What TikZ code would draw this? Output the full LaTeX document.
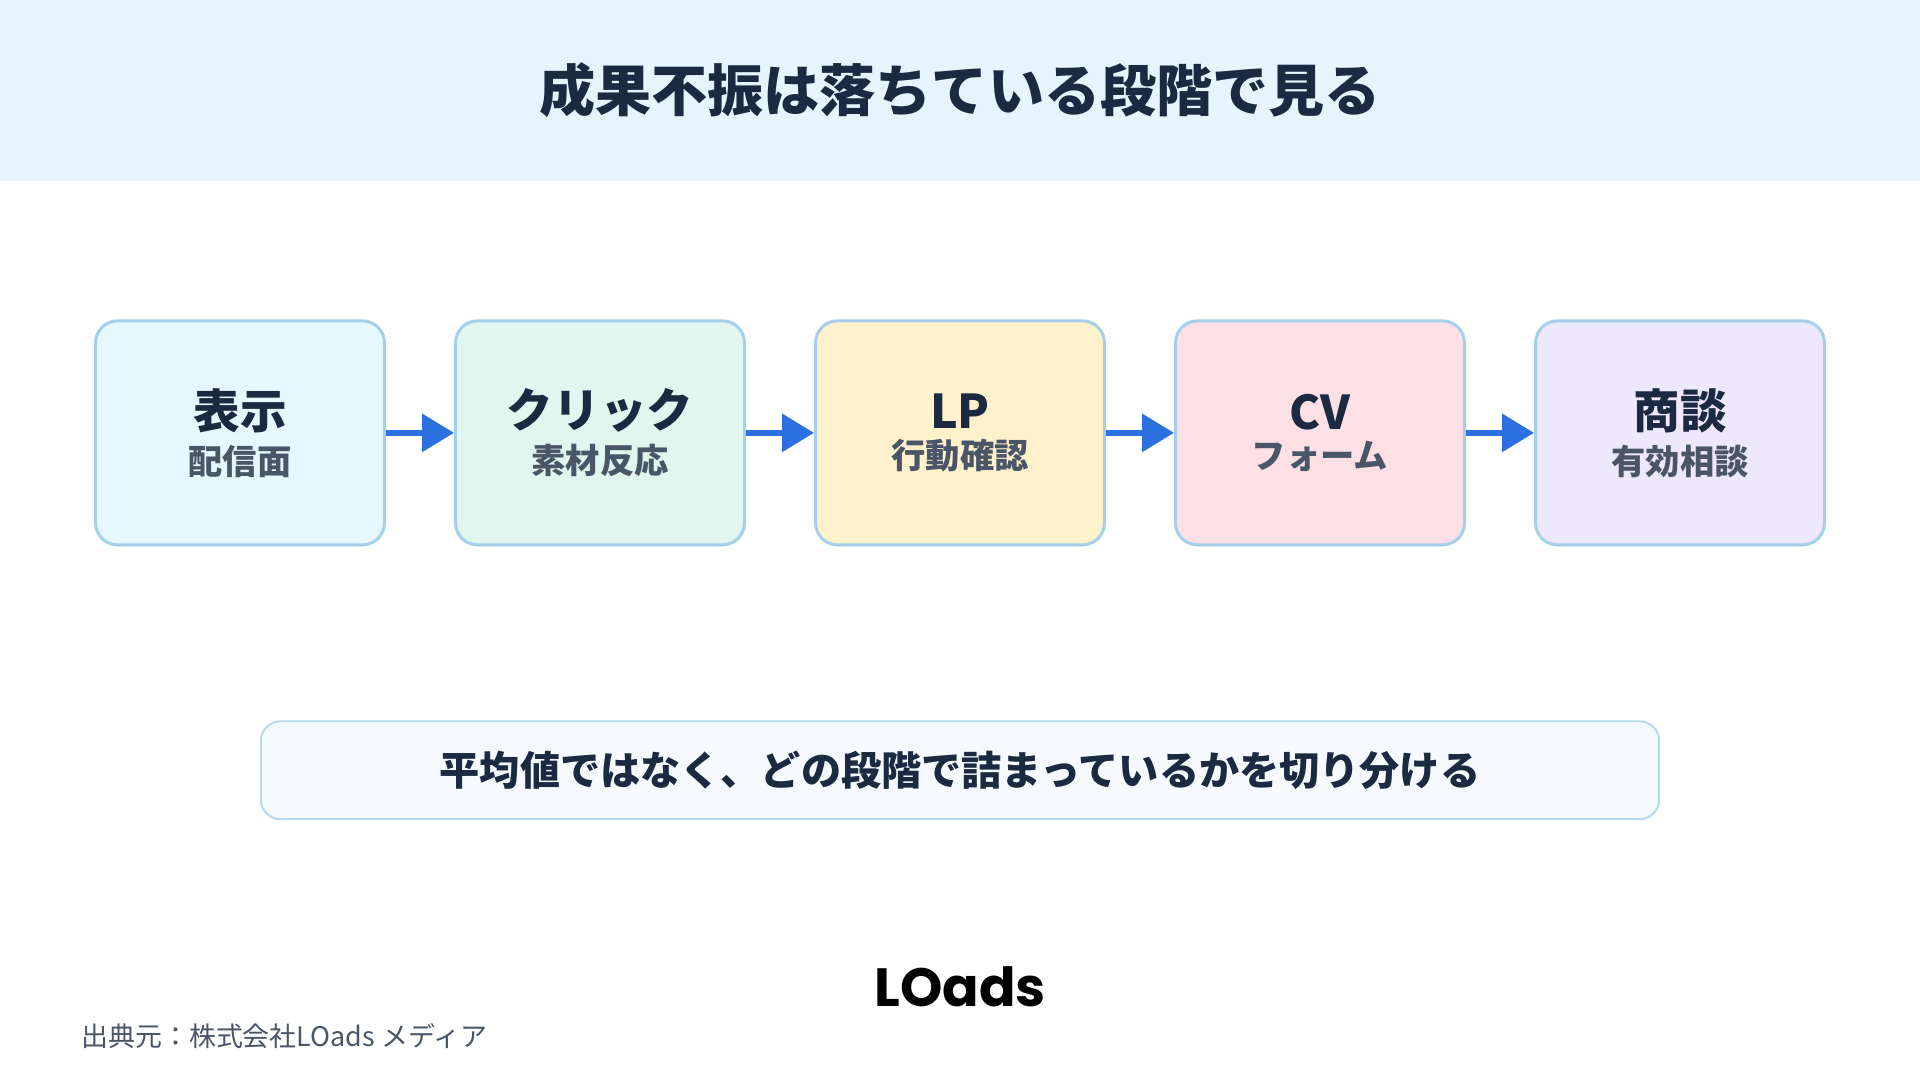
\documentclass[tikz,border=0pt]{standalone}
\usepackage{fontspec}
\setmainfont{Noto Sans CJK JP}
\newfontfamily\logofont{Poppins}[BoldFont=* Bold]
\usetikzlibrary{arrows.meta}
\definecolor{hdr}{HTML}{E8F4FD}
\definecolor{navy}{HTML}{1B2A41}
\definecolor{bord}{HTML}{A3CFEA}
\definecolor{arr}{HTML}{2B6FE0}
\definecolor{subc}{HTML}{4A5568}
\definecolor{fa}{HTML}{E6F7FD}
\definecolor{fb}{HTML}{E0F6EE}
\definecolor{fc}{HTML}{FEF1CC}
\definecolor{fd}{HTML}{FDE0E5}
\definecolor{fe}{HTML}{EDE8FC}
\tikzset{
  stagebox/.style={draw=bord,line width=1.2pt,rounded corners=9pt,minimum width=118pt,minimum height=91.5pt,inner sep=0pt,align=center},
  flowarrow/.style={draw=arr,line width=2.6pt,-{Triangle[length=13pt,width=15pt]}},
}
\newcommand{\stg}[2]{{\fontsize{19}{23}\selectfont\bfseries\color{navy}#1}\\[4pt]{\fontsize{14}{17}\selectfont\bfseries\color{subc}#2}}
\begin{document}
\begin{tikzpicture}[x=0.5pt,y=-0.5pt]
\useasboundingbox (0,0) rectangle (1568,882);
\fill[white] (0,0) rectangle (1568,882);
\fill[hdr] (0,0) rectangle (1568,148);
\node[font=\fontsize{22.9}{27}\selectfont\bfseries,text=navy] (title) at (784,74) {成果不振は落ちている段階で見る};
\node[stagebox,fill=fa] (s1) at (196,353.5) {\stg{表示}{配信面}};
\node[stagebox,fill=fb] (s2) at (490,353.5) {\stg{クリック}{素材反応}};
\node[stagebox,fill=fc] (s3) at (784,353.5) {\stg{LP}{行動確認}};
\node[stagebox,fill=fd] (s4) at (1078,353.5) {\stg{CV}{フォーム}};
\node[stagebox,fill=fe] (s5) at (1372,353.5) {\stg{商談}{有効相談}};
\draw[flowarrow] (s1.east) -- (s2.west);
\draw[flowarrow] (s2.east) -- (s3.west);
\draw[flowarrow] (s3.east) -- (s4.west);
\draw[flowarrow] (s4.east) -- (s5.west);
\node[draw=bord!80,fill=hdr!45,line width=0.8pt,rounded corners=8pt,minimum width=571pt,minimum height=40pt,font=\fontsize{16.4}{19}\selectfont\bfseries,text=navy] (note) at (784,629) {平均値ではなく、どの段階で詰まっているかを切り分ける};
\node[font=\logofont\fontsize{22}{26}\selectfont\bfseries,text=black] (logo) at (784,806) {LOads};
\node[anchor=west,inner sep=0pt,font=\fontsize{11}{13}\selectfont,text=subc] (src) at (66,846) {出典元：株式会社LOads メディア};
\end{tikzpicture}
\end{document}
